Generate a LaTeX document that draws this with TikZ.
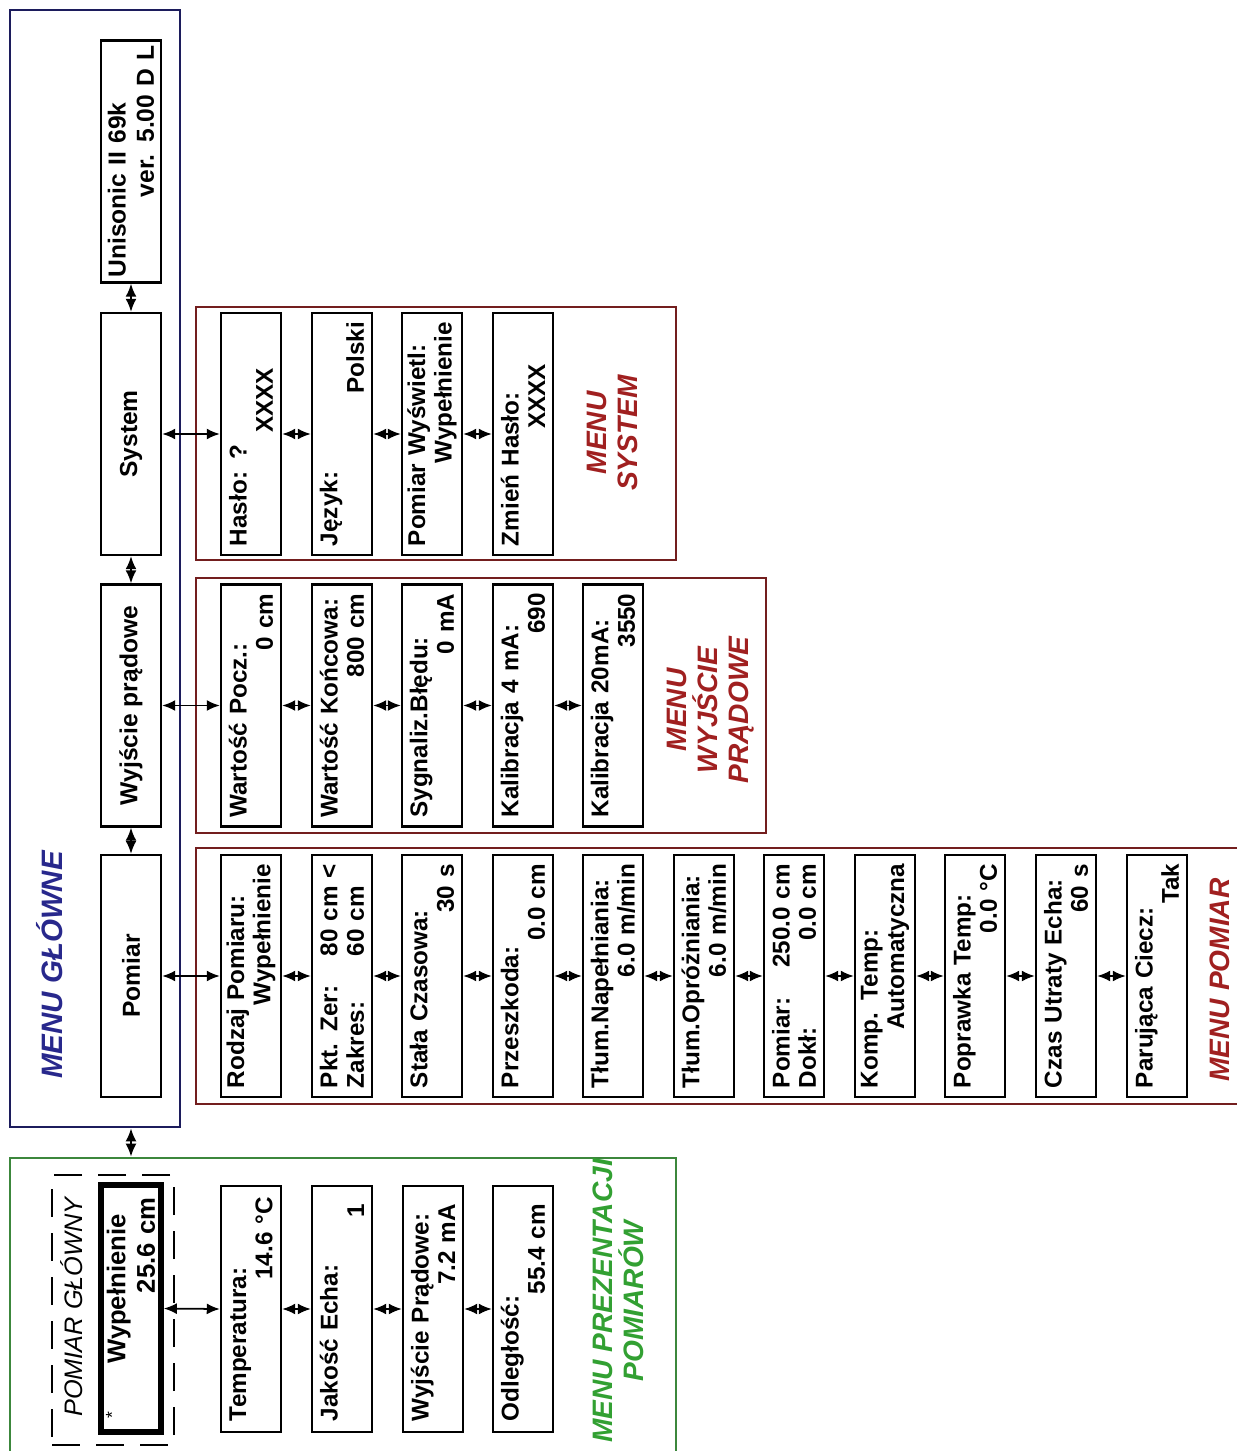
\documentclass[tikz,border=0pt]{standalone}
\usepackage{fontspec}
\setmainfont{Liberation Sans}
\usepackage{tikz}
\usetikzlibrary{arrows.meta, calc}

\definecolor{navy}{RGB}{28,28,92}
\definecolor{navytext}{RGB}{40,40,140}
\definecolor{darkred}{RGB}{115,30,30}
\definecolor{redtext}{RGB}{160,32,32}
\definecolor{framegreen}{RGB}{60,135,60}
\definecolor{greentext}{RGB}{50,160,50}

\newcommand\boxfont{\fontsize{6.9}{7.5}\selectfont\bfseries}
\newcommand\topfont{\fontsize{7}{8}\selectfont\bfseries}
\newcommand\dispfont{\fontsize{7.3}{8.4}\selectfont\bfseries}
\newcommand\menufont{\fontsize{8}{8.8}\selectfont\bfseries\itshape}
\newcommand\rpad[1]{\rule{#1}{0pt}}

\tikzset{
  menubox/.style={draw, line width=0.7pt, rotate=90, minimum width=24.2mm,
    minimum height=6mm, inner sep=0pt, font=\boxfont},
  item/.style={menubox, text width=22.4mm, align=left},
  link/.style={<->, >={Latex[length=1.3mm,width=1.1mm]}, line width=0.5pt},
  menulabel/.style={rotate=90, align=center, font=\menufont},
}

\begin{document}
\begin{tikzpicture}[x=0.1mm, y=-0.1mm]
    \useasboundingbox (0,0) rectangle (1236,1451);

    % frames
    \node[draw=navy, line width=0.8pt, minimum width=17mm, minimum height=111.7mm] (glowne) at (95,568.5) {};
    \node[draw=framegreen, line width=0.8pt, minimum width=66.6mm, minimum height=30.2mm] (prez) at (343,1309) {};
    \node[draw=darkred, line width=0.8pt, minimum width=48mm, minimum height=25.3mm] (sysframe) at (436,433.5) {};
    \node[draw=darkred, line width=0.8pt, minimum width=57mm, minimum height=25.5mm] (wyjframe) at (481,705.5) {};
    \node[draw=darkred, line width=0.8pt, minimum width=105.4mm, minimum height=25.6mm] (pomframe) at (723,976) {};
    \node[draw, line width=0.5pt, dash pattern=on 2.8mm off 1.6mm, minimum width=12.2mm, minimum height=27mm] (pgframe) at (113,1310) {};

    % labels
    \node[menulabel, text=navytext, font=\fontsize{8.4}{9}\selectfont\bfseries\itshape] (glabel) at (50,965) {MENU GŁÓWNE};
    \node[menulabel, text=redtext] (slabel) at (612,433) {MENU\\SYSTEM};
    \node[menulabel, text=redtext] (wlabel) at (711,710) {MENU\\WYJŚCIE\\PRĄDOWE};
    \node[menulabel, text=redtext] (plabel) at (1220,980) {MENU POMIAR};
    \node[menulabel, text=greentext] (prlabel) at (618,1301) {MENU PREZENTACJI\\POMIARÓW};
    \node[rotate=90, font=\fontsize{7.2}{8}\selectfont\itshape] (pglabel) at (72,1307) {POMIAR GŁÓWNY};

    % main menu
    \node[item, font=\topfont, text width=23.2mm] (uni) at (131,161.5) {Unisonic II 69k\\ \hfill ver. 5.00 D L};
    \node[menubox, font=\topfont] (sys) at (131,434) {System};
    \node[menubox, font=\topfont] (wyj) at (131,705.5) {Wyjście prądowe};
    \node[menubox, font=\topfont] (pom) at (131,976) {Pomiar};

    % menu system
    \node[item] (haslo) at (251,434) {Hasło: ?\\ \hfill XXXX\rpad{4.6mm}};
    \node[item] (jezyk) at (342,434) {Język:\\ \hfill Polski};
    \node[item] (wyswietl) at (432,434) {Pomiar Wyświetl:\\ \hfill Wypełnienie};
    \node[item] (zmien) at (523,434) {Zmień Hasło:\\ \hfill XXXX\rpad{4.2mm}};

    % menu wyjscie pradowe
    \node[item] (wpocz) at (251,705.5) {Wartość Pocz.:\\ \hfill 0 cm};
    \node[item] (wkonc) at (342,705.5) {Wartość Końcowa:\\ \hfill 800 cm};
    \node[item] (sygn) at (432,705.5) {Sygnaliz.Błędu:\\ \hfill 0 mA};
    \node[item] (kal4) at (523,705.5) {Kalibracja 4 mA:\\ \hfill 690};
    \node[item] (kal20) at (613,705.5) {Kalibracja 20mA:\\ \hfill 3550};

    % menu pomiar
    \node[item] (rodzaj) at (251,976) {Rodzaj Pomiaru:\\ \hfill Wypełnienie};
    \node[item] (zakres) at (342,976) {Pkt. Zer:\hfill 80 cm <\\ Zakres:\hfill 60 cm\phantom{ <}};
    \node[item] (stala) at (432,976) {Stała Czasowa:\\ \hfill 30 s};
    \node[item] (przeszk) at (523,976) {Przeszkoda:\\ \hfill 0.0 cm};
    \node[item] (tlnap) at (613,976) {Tłum.Napełniania:\\ \hfill 6.0 m/min};
    \node[item] (tlopr) at (704,976) {Tłum.Opróżniania:\\ \hfill 6.0 m/min};
    \node[item] (dokl) at (794,976) {Pomiar:\hfill 250.0 cm\\ Dokł:\hfill 0.0 cm};
    \node[item] (komp) at (885,976) {Komp. Temp:\\ \hfill Automatyczna};
    \node[item] (popr) at (975,976) {Poprawka Temp:\\ \hfill 0.0 °C};
    \node[item] (czas) at (1066,976) {Czas Utraty Echa:\\ \hfill 60 s};
    \node[item] (paruj) at (1157,976) {Parująca Ciecz:\\ \hfill Tak};

    % menu prezentacji pomiarow
    \node[item, font=\dispfont, line width=1.6pt, minimum width=24.7mm, text width=23mm] (disp) at (131,1308.5) {\hfill Wypełnienie\rpad{2.1mm}\\ \hfill 25.6 cm\rpad{0.4mm}};
    \node[rotate=90, font=\tiny, inner sep=0pt] (star) at (112,1415) {*};
    \node[item, minimum width=24.6mm] (temp) at (251,1309) {Temperatura:\\ \hfill 14.6 °C};
    \node[item, minimum width=24.6mm] (jakosc) at (342,1309) {Jakość Echa:\\ \hfill 1\rpad{0.7mm}};
    \node[item, minimum width=24.6mm] (wyjpr) at (433,1309) {Wyjście Prądowe:\\ \hfill 7.2 mA\rpad{0.7mm}};
    \node[item, minimum width=24.6mm] (odl) at (523,1309) {Odległość:\\ \hfill 55.4 cm\rpad{0.7mm}};

    % connectors
    \draw[link] (uni.west) -- (sys.east);
    \draw[link] (sys.west) -- (wyj.east);
    \draw[link] (wyj.west) -- (pom.east);
    \draw[link] (pom.west |- glowne.south) -- (pom.west |- prez.north);

    \draw[link] (sys.south) -- (haslo.north);
    \draw[link] (wyj.south) -- (wpocz.north);
    \draw[link] (pom.south) -- (rodzaj.north);
    \draw[link] (disp.south) -- (temp.north);

    \foreach \a/\b in {haslo/jezyk, jezyk/wyswietl, wyswietl/zmien,
                       wpocz/wkonc, wkonc/sygn, sygn/kal4, kal4/kal20,
                       rodzaj/zakres, zakres/stala, stala/przeszk, przeszk/tlnap, tlnap/tlopr,
                       tlopr/dokl, dokl/komp, komp/popr, popr/czas, czas/paruj,
                       temp/jakosc, jakosc/wyjpr, wyjpr/odl}
        \draw[link] (\a.south) -- (\b.north);
\end{tikzpicture}
\end{document}
